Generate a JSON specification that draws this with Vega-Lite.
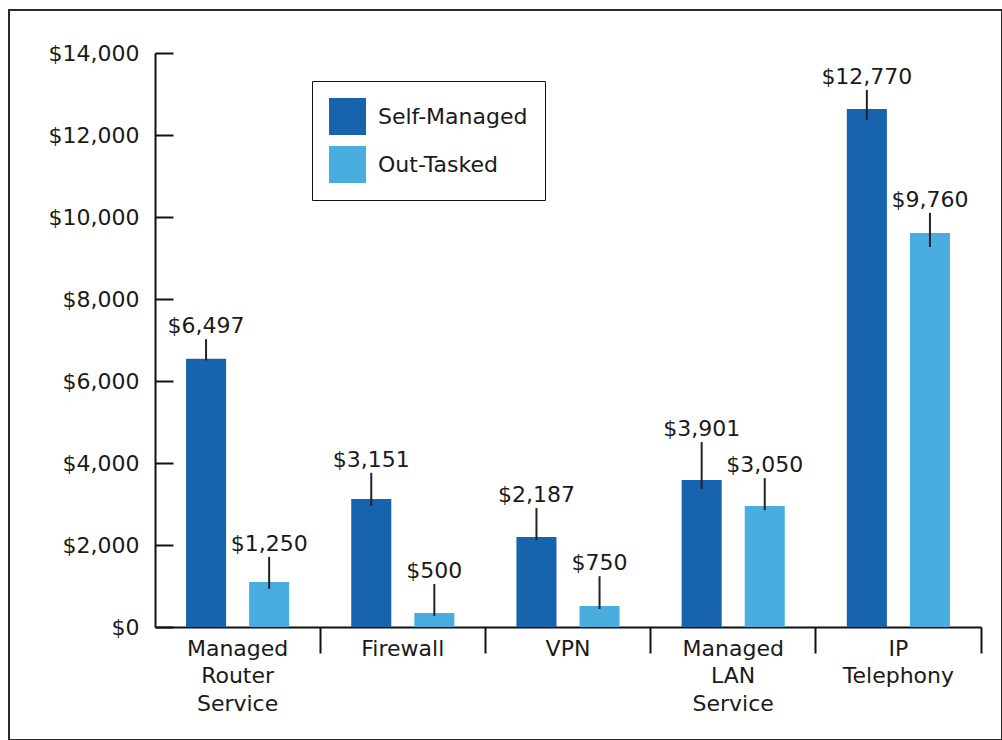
{
  "$schema": "https://vega.github.io/schema/vega-lite/v6.json",
  "width": 993,
  "height": 730,
  "autosize": {"type": "none"},
  "padding": {"left": 9, "top": 10, "right": 0, "bottom": 0},
  "background": "white",
  "config": {
    "view": {"stroke": "#2b2b2b", "strokeWidth": 2},
    "font": "DejaVu Sans"
  },
  "data": {
    "values": [
      {"category": "Managed Router Service", "series": "Self-Managed", "value": 6540, "label": "$6,497", "lo": 6500, "hi": 7020},
      {"category": "Managed Router Service", "series": "Out-Tasked", "value": 1100, "label": "$1,250", "lo": 930, "hi": 1710},
      {"category": "Firewall", "series": "Self-Managed", "value": 3120, "label": "$3,151", "lo": 2950, "hi": 3760},
      {"category": "Firewall", "series": "Out-Tasked", "value": 340, "label": "$500", "lo": 270, "hi": 1050},
      {"category": "VPN", "series": "Self-Managed", "value": 2195, "label": "$2,187", "lo": 2120, "hi": 2900},
      {"category": "VPN", "series": "Out-Tasked", "value": 510, "label": "$750", "lo": 440, "hi": 1240},
      {"category": "Managed LAN Service", "series": "Self-Managed", "value": 3585, "label": "$3,901", "lo": 3370, "hi": 4510},
      {"category": "Managed LAN Service", "series": "Out-Tasked", "value": 2950, "label": "$3,050", "lo": 2850, "hi": 3630},
      {"category": "IP Telephony", "series": "Self-Managed", "value": 12635, "label": "$12,770", "lo": 12370, "hi": 13100},
      {"category": "IP Telephony", "series": "Out-Tasked", "value": 9610, "label": "$9,760", "lo": 9270, "hi": 10100}
    ]
  },
  "encoding": {
    "x": {
      "field": "category",
      "type": "nominal",
      "sort": null,
      "scale": {"range": [146, 972], "paddingInner": 0, "paddingOuter": 0},
      "axis": {
        "title": null,
        "offset": -113,
        "bandPosition": 1,
        "tickSize": 26,
        "tickWidth": 2,
        "tickColor": "#111111",
        "domainColor": "#111111",
        "domainWidth": 2,
        "labelAngle": 0,
        "labelFontSize": 22,
        "labelColor": "#1a1a1a",
        "labelPadding": -15,
        "labelBaseline": "top",
        "labelLineHeight": 27.5,
        "labelExpr": "split(datum.label, ' ')"
      }
    },
    "xOffset": {
      "field": "series",
      "type": "nominal",
      "sort": ["Self-Managed", "Out-Tasked"],
      "scale": {"paddingInner": 0.365, "paddingOuter": 0.492}
    }
  },
  "layer": [
    {
      "mark": {"type": "bar"},
      "encoding": {
        "y": {
          "field": "value",
          "type": "quantitative",
          "title": null,
          "scale": {"domain": [0, 14000], "range": [617, 43], "nice": false},
          "axis": {
            "orient": "right",
            "title": null,
            "values": [0, 2000, 4000, 6000, 8000, 10000, 12000, 14000],
            "format": "$,d",
            "offset": -847,
            "grid": false,
            "tickSize": 18,
            "tickWidth": 2,
            "tickColor": "#111111",
            "domainColor": "#111111",
            "domainWidth": 2,
            "labelFontSize": 22,
            "labelColor": "#1a1a1a",
            "labelAlign": "right",
            "labelPadding": -34,
            "labelOverlap": false
          }
        },
        "color": {
          "field": "series",
          "type": "nominal",
          "scale": {"domain": ["Self-Managed", "Out-Tasked"], "range": ["#1763ad", "#4aade0"]},
          "legend": {
            "title": null,
            "orient": "none",
            "legendX": 303,
            "legendY": 71,
            "symbolType": "square",
            "symbolSize": 1369,
            "symbolStrokeWidth": 0,
            "symbolOpacity": 1,
            "labelFontSize": 22,
            "labelColor": "#1a1a1a",
            "labelOffset": 12,
            "rowPadding": 11,
            "padding": 17,
            "strokeColor": "#111111",
            "fillColor": "white"
          }
        }
      }
    },
    {
      "mark": {"type": "rule", "strokeWidth": 2, "color": "#222222"},
      "encoding": {
        "y": {"field": "lo", "type": "quantitative", "title": null},
        "y2": {"field": "hi"}
      }
    },
    {
      "mark": {"type": "text", "baseline": "alphabetic", "dy": -6, "fontSize": 22, "color": "#1a1a1a"},
      "encoding": {
        "y": {"field": "hi", "type": "quantitative", "title": null},
        "text": {"field": "label"}
      }
    }
  ]
}
